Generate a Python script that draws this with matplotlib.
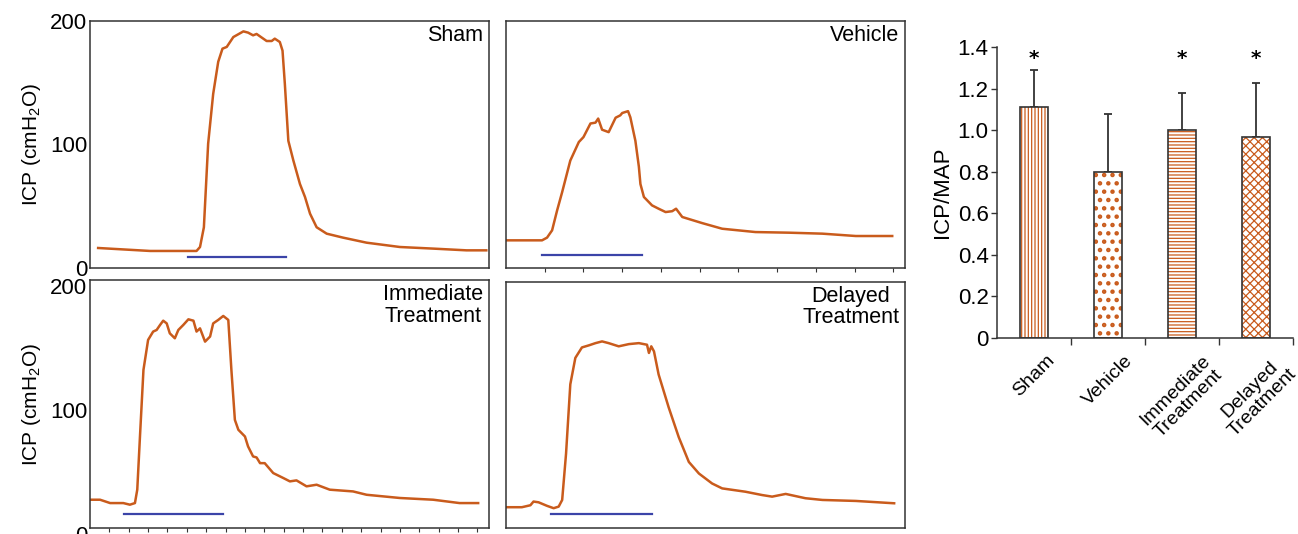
import matplotlib
matplotlib.use("Agg")
import numpy as np
import matplotlib.pyplot as plt
from matplotlib import font_manager
from matplotlib.transforms import ScaledTranslation

# pick a narrow Arial-like face if there is one, the figure text looks condensed
installed = {f.name for f in font_manager.fontManager.ttflist}
if "Liberation Sans Narrow" in installed:
    FONT, FS = "Liberation Sans Narrow", 17
else:
    FONT, FS = "Liberation Sans", 15.5
plt.rcParams["font.family"] = [FONT, "DejaVu Sans"]
plt.rcParams["mathtext.fontset"] = "custom"
plt.rcParams["mathtext.rm"] = FONT
plt.rcParams["mathtext.default"] = "rm"
plt.rcParams["hatch.linewidth"] = 0.9

ORANGE = "#c95b1c"
BLUE = "#3b44a8"
FRAME = "#333333"

# ICP traces, time (arbitrary units, ~minutes) vs ICP (cmH2O)
sham_t = [0.21, 1.55, 2.75, 2.84, 2.94, 3.05, 3.18, 3.31, 3.42, 3.53, 3.70, 3.96, 4.08,
          4.21, 4.30, 4.56, 4.69, 4.77, 4.90, 4.97, 5.03, 5.12, 5.25, 5.42, 5.55, 5.68,
          5.85, 6.11, 6.53, 7.14, 8.00, 8.86, 9.72, 10.23]
sham_icp = [16.2, 13.8, 13.8, 17, 33, 100.7, 141, 167, 177.6, 179, 187, 191.6, 190.6,
            188.4, 189.5, 183.8, 183.8, 185.7, 183, 176, 149, 103, 87, 68, 57.5, 44,
            33, 27.8, 24.6, 20.5, 17, 15.7, 14.3, 14.3]

vehicle_t = [0.0, 0.93, 1.06, 1.19, 1.32, 1.45, 1.66, 1.88, 2.00, 2.18, 2.31, 2.38, 2.48,
             2.65, 2.83, 2.95, 3.00, 3.15, 3.21, 3.34, 3.43, 3.47, 3.56, 3.77, 3.94, 4.12,
             4.29, 4.39, 4.55, 5.06, 5.58, 6.44, 7.30, 8.17, 9.03, 9.97]
vehicle_icp = [22.4, 22.4, 24.6, 30.5, 46.7, 61.5, 87, 102, 106, 117, 117.7, 121, 112,
               110, 121.7, 123.6, 125.5, 127, 122, 103, 82, 68, 57.5, 50.7, 48, 45.3,
               46, 48, 41.3, 36.4, 31.8, 29.1, 28.6, 27.8, 25.9, 25.9]

immediate_t = [0.02, 0.26, 0.52, 0.86, 1.03, 1.16, 1.22, 1.29, 1.38, 1.50, 1.63, 1.72, 1.81,
               1.89, 1.98, 2.06, 2.19, 2.28, 2.41, 2.54, 2.67, 2.75, 2.84, 2.97, 3.10, 3.18,
               3.31, 3.44, 3.57, 3.65, 3.74, 3.83, 4.00, 4.08, 4.21, 4.30, 4.39, 4.51, 4.73,
               4.99, 5.16, 5.33, 5.59, 5.85, 6.19, 6.79, 7.14, 8.00, 8.86, 9.54, 10.02]
immediate_icp = [22.8, 22.8, 20.1, 20.1, 18.8, 20.1, 30.9, 73.8, 127.5, 151.7, 158.4, 159.7,
                 163.8, 167.2, 165, 157, 153, 159.7, 163.8, 168.3, 167.2, 158.4, 161, 150.3,
                 154.4, 165, 167.8, 171, 167.8, 127.5, 87.2, 79.2, 73.8, 65.8, 57.7, 56.9,
                 52.3, 52.3, 44.3, 40.3, 37.6, 38.4, 33.6, 34.9, 30.9, 29.5, 26.8, 24.2,
                 22.8, 20.1, 20.1]

delayed_t = [0.03, 0.41, 0.63, 0.71, 0.84, 1.06, 1.23, 1.36, 1.45, 1.55, 1.66, 1.79, 1.96,
             2.14, 2.31, 2.48, 2.65, 2.91, 3.17, 3.43, 3.64, 3.69, 3.75, 3.82, 3.94, 4.20,
             4.46, 4.72, 4.98, 5.32, 5.58, 6.18, 6.61, 6.87, 7.22, 7.73, 8.17, 9.03, 10.02]
delayed_icp = [16.9, 16.9, 18.5, 21.5, 20.9, 18, 16.1, 17.4, 22.8, 60.4, 116.8, 138.3, 146.8,
               148.5, 150.3, 151.7, 150.3, 147.7, 149.5, 150.3, 149, 142.3, 147.7, 143.6,
               124.8, 98, 73.8, 53.7, 44.3, 36.2, 32.2, 29.5, 26.8, 25.5, 27.7, 24.2, 22.8,
               22, 20.1]

# blue bar under each trace (start, end, level)
sham_bar = [2.52, 5.07, 8.6]
vehicle_bar = [0.93, 3.51, 10.3]
immediate_bar = [0.88, 3.44, 11.5]
delayed_bar = [1.17, 3.76, 11.5]

# ICP/MAP summary
groups = ["Sham", "Vehicle", "Immediate\nTreatment", "Delayed\nTreatment"]
ratio_mean = [1.11, 0.80, 1.00, 0.965]
ratio_err = [0.18, 0.28, 0.18, 0.26]
significant = [True, False, True, True]
ratio_yticks = [0, 0.2, 0.4, 0.6, 0.8, 1.0, 1.2, 1.4]
ratio_ylabels = ["0", "0.2", "0.4", "0.6", "0.8", "1.0", "1.2", "1.4"]
hatches = ["|||||", "..", "-----", "xxxx"]
hatch_lw = [0.9, 2.0, 0.9, 0.9]

W, H = 1298, 534
fig = plt.figure(figsize=(W / 100, H / 100), dpi=100)


def px_axes(x0, y0, x1, y1):
    return fig.add_axes([x0 / W, 1 - y1 / H, (x1 - x0) / W, (y1 - y0) / H])


def trace_panel(ax, t, icp, bar, label, left, ticks, label_drop=0):
    ax.plot(t, icp, color=ORANGE, lw=1.8, solid_joinstyle="round")
    ax.plot(bar[:2], [bar[2], bar[2]], color=BLUE, lw=1.6)
    ax.set_xlim(0, 10.3)
    ax.set_ylim(0, 200)
    for s in ax.spines.values():
        s.set_color(FRAME)
        s.set_linewidth(1.1)
    if ticks is None:
        ax.set_xticks([])
    else:
        ax.set_xticks(ticks)
        ax.tick_params(axis="x", length=3, width=0.8, color=FRAME, labelbottom=False)
    if left:
        ax.set_yticks([0, 100, 200])
        ax.set_yticklabels(["0", "100", "200"], fontsize=FS + 0.5)
        ax.tick_params(axis="y", length=0, pad=2)
        ax.set_ylabel(r"ICP (cmH$_2$O)", fontsize=FS - 0.5, labelpad=5)
        if label_drop:
            # lower panel's numbers sit a little below their ticks in the original
            off = ScaledTranslation(0, -label_drop / 100, fig.dpi_scale_trans)
            for lab in ax.get_yticklabels():
                lab.set_transform(lab.get_transform() + off)
    else:
        ax.set_yticks([])
    ax.text(0.985, 0.985, label, transform=ax.transAxes, ha="right", va="top",
            fontsize=FS, multialignment="center", linespacing=1.05)


ax1 = px_axes(90, 21, 489, 268)
trace_panel(ax1, sham_t, sham_icp, sham_bar, "Sham", True, None)
ax2 = px_axes(506, 21, 905, 268)
trace_panel(ax2, vehicle_t, vehicle_icp, vehicle_bar, "Vehicle", False, np.arange(1, 11))
ax3 = px_axes(90, 280, 489, 528)
trace_panel(ax3, immediate_t, immediate_icp, immediate_bar, "Immediate\nTreatment", True,
            np.arange(0.5, 10.01, 0.5), label_drop=6)
ax4 = px_axes(506, 282, 905, 528)
trace_panel(ax4, delayed_t, delayed_icp, delayed_bar, "Delayed\nTreatment", False, None)

# bar chart
axb = px_axes(997, 47, 1293, 338)
x = np.arange(len(groups))
# hatch drawn in orange, outline drawn separately in dark grey
for xi, m, h, hl in zip(x, ratio_mean, hatches, hatch_lw):
    with plt.rc_context({"hatch.linewidth": hl}):
        axb.bar(xi, m, width=0.39, color="white", edgecolor=ORANGE, lw=0, hatch=h, zorder=2)
axb.bar(x, ratio_mean, width=0.39, fill=False, edgecolor=FRAME, lw=1.2, zorder=3)
axb.errorbar(x, ratio_mean, yerr=[np.zeros(len(x)), ratio_err], fmt="none",
             ecolor=FRAME, elinewidth=1.3, capsize=3, capthick=1.3, zorder=1)
for xi, sig in zip(x, significant):
    if sig:
        axb.text(xi, 1.345, "*", ha="center", va="center", fontsize=FS - 1,
                 fontweight="bold", family="DejaVu Sans")
axb.set_xlim(-0.5, 3.5)
axb.set_ylim(0, 1.4)
axb.set_yticks(ratio_yticks)
axb.set_yticklabels(ratio_ylabels, fontsize=FS + 0.5)
axb.tick_params(axis="y", length=4, width=1, color=FRAME, pad=2)
axb.set_xticks(x)
axb.set_xticklabels(groups, rotation=45, ha="center", va="top", fontsize=FS - 1.5,
                    linespacing=1.1)
axb.set_xticks([0.5, 1.5, 2.5, 3.5], minor=True)
axb.tick_params(axis="x", which="major", length=0, pad=10)
axb.tick_params(axis="x", which="minor", length=5, width=1, color=FRAME)
axb.spines["top"].set_visible(False)
axb.spines["right"].set_visible(False)
for s in ("left", "bottom"):
    axb.spines[s].set_color(FRAME)
    axb.spines[s].set_linewidth(1.1)
axb.set_ylabel("ICP/MAP", fontsize=FS + 0.5, labelpad=3)

fig.savefig("out.png", dpi=100)
